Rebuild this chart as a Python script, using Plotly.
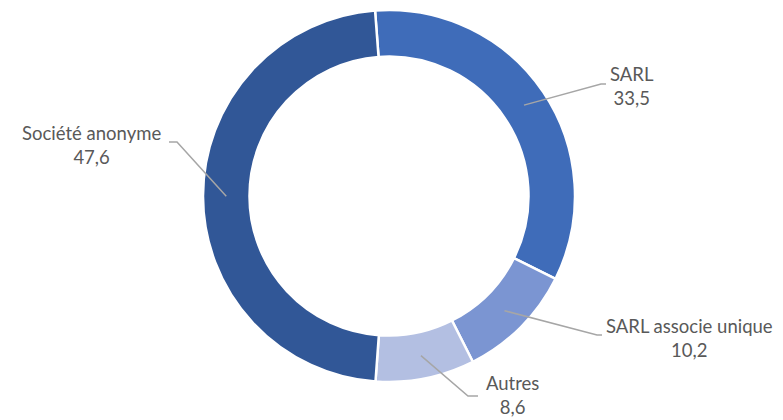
import math
import plotly.graph_objects as go

labels = ["SARL", "SARL associe unique", "Autres", "Société anonyme"]
values = [33.5, 10.2, 8.6, 47.6]
value_text = ["33,5", "10,2", "8,6", "47,6"]
colors = ["#3F6CB9", "#7B95D2", "#B3BFE2", "#315797"]

W, H = 783, 420
OFF = 8  # browser body margin
cx, cy, R, hole = 389, 196, 186, 0.75
rotation = -4.3

# label anchor positions (pixel) and leader-line elbows (pixel)
label_pos = [(632, 86), (689, 338), (512, 395), (91, 145)]
elbows = [[(601, 84), (606, 84)], [(597, 335), (602, 335)],
          [(468, 396), (478, 396)], [(177, 142), (169, 142)]]

def px(x):
    return (x - OFF) / W

def py(y):
    return 1 - (y - OFF) / H

fig = go.Figure(go.Pie(
    labels=labels, values=values, sort=False, direction="clockwise",
    rotation=rotation, hole=hole, textinfo="none", hoverinfo="label+value",
    marker=dict(colors=colors, line=dict(color="white", width=2.5)),
    domain=dict(x=[px(cx - R), px(cx + R)], y=[py(cy + R), py(cy - R)]),
    showlegend=False,
))

total = sum(values)
cum = 0
mid_r = R * (1 + hole) / 2
for i, v in enumerate(values):
    ang = math.radians(rotation + 360 * (cum + v / 2) / total)
    cum += v
    sx = cx + mid_r * math.sin(ang)
    sy = cy - mid_r * math.cos(ang)
    pts = [(sx, sy)] + elbows[i]
    path = "M " + " L ".join(f"{px(x):.5f},{py(y):.5f}" for x, y in pts)
    fig.add_shape(type="path", path=path, xref="paper", yref="paper",
                  line=dict(color="#A6A6A6", width=1.5))
    lx, ly = label_pos[i]
    fig.add_annotation(x=px(lx), y=py(ly), xref="paper", yref="paper",
                       text=f"{labels[i]}<br>{value_text[i]}", showarrow=False,
                       align="center", xanchor="center", yanchor="middle",
                       font=dict(family="Lato", size=18.5, color="#595959"))

fig.update_layout(width=W, height=H, margin=dict(l=0, r=0, t=0, b=0),
                  paper_bgcolor="white", plot_bgcolor="white")
fig.write_html("out.html")
